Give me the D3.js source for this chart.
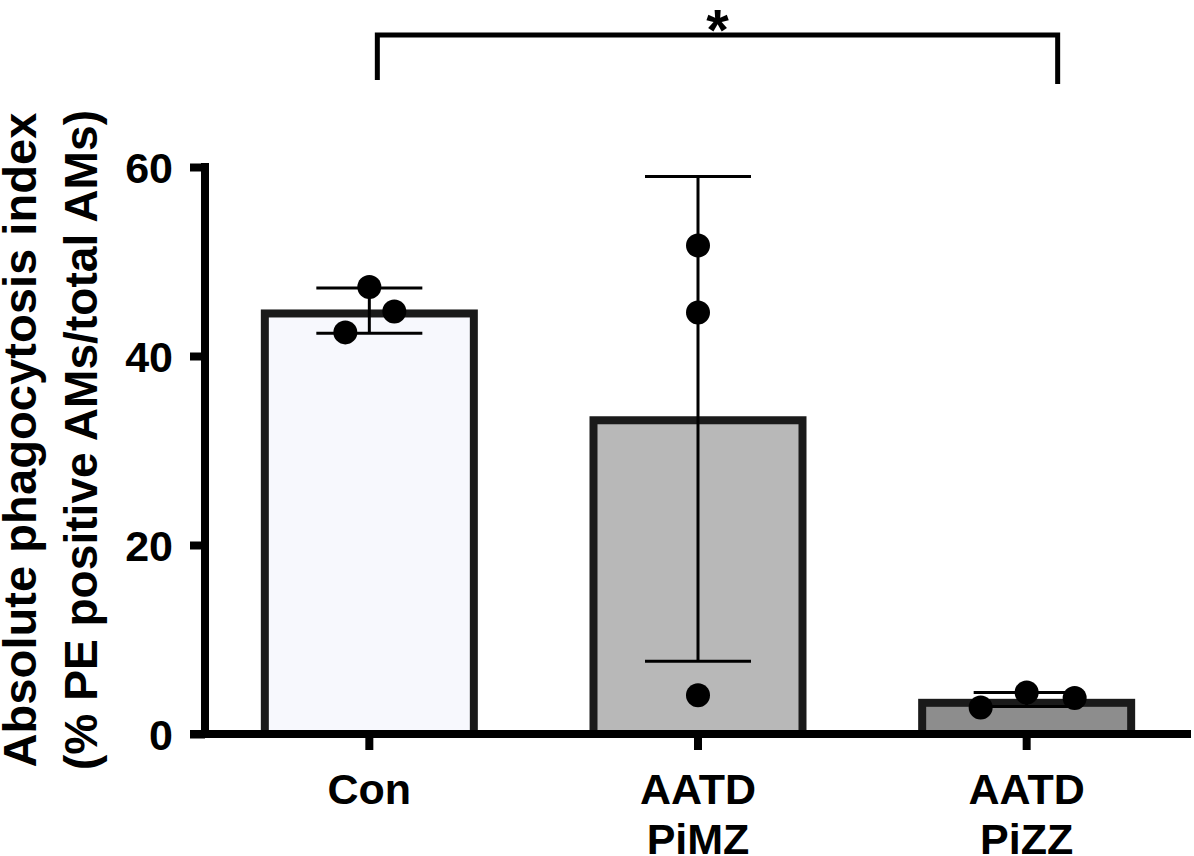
<!DOCTYPE html>
<html>
<head>
<meta charset="utf-8">
<script src="https://cdn.jsdelivr.net/npm/d3@7"></script>
<style>
  body { margin: 0; background: #fff; }
  text { font-family: "Liberation Sans", Arial, sans-serif; font-weight: bold; }
</style>
</head>
<body>
<svg id="chart" width="1194" height="856"></svg>
<script>
const categories = ["Con", "AATD\nPiMZ", "AATD\nPiZZ"];
const means = [44.5, 33.2, 3.3];
const errLow = [42.4, 7.7, 2.9];
const errHigh = [47.2, 59.0, 4.4];
const fills = ["#f7f8fd", "#b8b8b8", "#8d8d8d"];
// individual replicates, with Prism-style horizontal jitter (fraction of band)
const points = [
    [47.3, 44.7, 42.5],
    [51.7, 44.6, 4.1],
    [2.8, 4.4, 3.8]
];
const jitter = [
    [0, 0.076, -0.073],
    [0, 0, 0],
    [-0.14, 0, 0.146]
];
const yTicks = [0, 20, 40, 60];
const sigPair = [0, 2];
const sigLabel = "*";

const svg = d3.select("#chart");

const area = {
    left: 205,
    right: 1191,
    top: 167,
    bottom: 734
};

const scaleX = d3.scaleBand()
    .domain(categories)
    .range([area.left, area.right])
    .padding(0);

const scaleY = d3.scaleLinear()
    .domain([0, 60])
    .range([area.bottom, area.top]);

const barW = 209;
const cx = d => scaleX(d) + scaleX.bandwidth() / 2;

// bars
svg.append("g")
    .selectAll("rect")
    .data(categories)
    .enter()
    .append("rect")
    .attr("x", d => cx(d) - barW / 2)
    .attr("y", (d, i) => scaleY(means[i]))
    .attr("width", barW)
    .attr("height", (d, i) => area.bottom - scaleY(means[i]))
    .attr("fill", (d, i) => fills[i])
    .attr("stroke", "#1a1a1a")
    .attr("stroke-width", 8);

// error bars
const errG = svg.append("g").attr("stroke", "#000").attr("stroke-width", 3);
categories.forEach((c, i) => {
    const x = cx(c);
    const hw = 53;
    errG.append("line")
        .attr("x1", x).attr("x2", x)
        .attr("y1", scaleY(errLow[i])).attr("y2", scaleY(errHigh[i]));
    errG.append("line")
        .attr("x1", x - hw).attr("x2", x + hw)
        .attr("y1", scaleY(errHigh[i])).attr("y2", scaleY(errHigh[i]));
    errG.append("line")
        .attr("x1", x - hw).attr("x2", x + hw)
        .attr("y1", scaleY(errLow[i])).attr("y2", scaleY(errLow[i]));
});

// dots
categories.forEach((c, i) => {
    svg.append("g")
        .selectAll("circle")
        .data(points[i])
        .enter()
        .append("circle")
        .attr("cx", (d, j) => cx(c) + jitter[i][j] * scaleX.bandwidth())
        .attr("cy", d => scaleY(d))
        .attr("r", 12)
        .attr("fill", "#000");
});

// y axis
const axisY = svg.append("g")
    .attr("transform", `translate(${area.left}, 0)`)
    .call(d3.axisLeft(scaleY).tickValues(yTicks).tickSize(15).tickPadding(17));
axisY.select(".domain")
    .attr("d", `M0,${area.top - 4}V${area.bottom + 4}`)
    .attr("stroke", "#000")
    .attr("stroke-width", 8);
axisY.selectAll(".tick line").attr("stroke", "#000").attr("stroke-width", 8);
axisY.selectAll(".tick text")
    .attr("font-size", 43)
    .attr("fill", "#000")
    .attr("dy", "0.36em");

// x axis
const axisX = svg.append("g")
    .attr("transform", `translate(0, ${area.bottom})`)
    .call(d3.axisBottom(scaleX).tickSize(16).tickFormat(""));
axisX.select(".domain")
    .attr("d", `M${area.left - 15},0H${area.right}`)
    .attr("stroke", "#000")
    .attr("stroke-width", 8);
axisX.selectAll(".tick line").attr("stroke", "#000").attr("stroke-width", 8);

axisX.selectAll(".tick")
    .append("text")
    .attr("fill", "#000")
    .attr("font-size", 43)
    .attr("text-anchor", "middle")
    .selectAll("tspan")
    .data(d => d.split("\n"))
    .enter()
    .append("tspan")
    .attr("x", 0)
    .attr("y", (d, i) => 70 + i * 50)
    .text(d => d);

// y label
const yLabel = svg.append("text")
    .attr("transform", "translate(0, 440) rotate(-90)")
    .attr("text-anchor", "middle")
    .attr("fill", "#000")
    .attr("font-size", 47);
yLabel.append("tspan")
    .attr("x", 0).attr("y", 36)
    .attr("textLength", 655).attr("lengthAdjust", "spacingAndGlyphs")
    .text("Absolute phagocytosis index");
yLabel.append("tspan")
    .attr("x", 0).attr("y", 97)
    .attr("textLength", 660).attr("lengthAdjust", "spacingAndGlyphs")
    .text("(% PE positive AMs/total AMs)");

// significance bracket
const bx1 = cx(categories[sigPair[0]]) + 8;
const bx2 = cx(categories[sigPair[1]]) + 31;
svg.append("path")
    .attr("d", `M${bx1},80V35H${bx2}V84`)
    .attr("fill", "none")
    .attr("stroke", "#000")
    .attr("stroke-width", 5);
svg.append("text")
    .attr("x", (bx1 + bx2) / 2)
    .attr("y", 50)
    .attr("text-anchor", "middle")
    .attr("font-size", 58)
    .attr("fill", "#000")
    .text(sigLabel);
</script>
</body>
</html>
